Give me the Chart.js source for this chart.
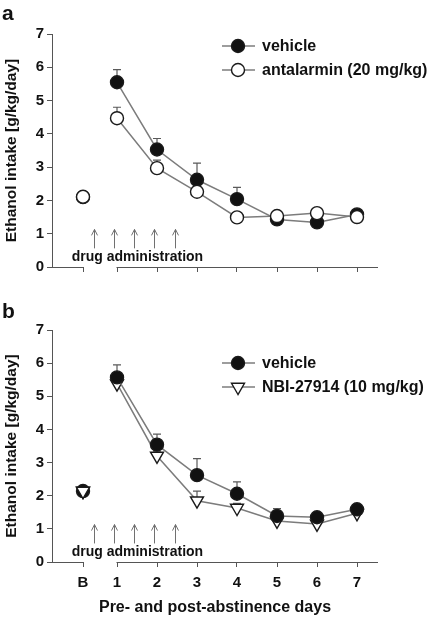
<!DOCTYPE html>
<html><head><meta charset="utf-8">
<script src="https://cdn.jsdelivr.net/npm/chart.js@4/dist/chart.umd.min.js"></script>
<style>
html,body{margin:0;padding:0;background:#fff;}
#wrap{position:relative;width:429px;height:618px;overflow:hidden;}
canvas{position:absolute;left:0;display:block;}
</style></head><body>
<div id="wrap">
<canvas id="ca" width="429" height="300" style="top:0"></canvas>
<canvas id="cb" width="429" height="318" style="top:300px"></canvas>
</div>
<script>
// ---- data ----
const categories = ['B','1','2','3','4','5','6','7'];
const vehicleA      = [2.10, 5.55, 3.53, 2.62, 2.04, 1.43, 1.34, 1.58];
const vehicleA_sem  = [0.05, 0.38, 0.33, 0.50, 0.35, 0.08, 0.06, 0.05];
const antalarminA   = [2.11, 4.47, 2.97, 2.26, 1.49, 1.53, 1.62, 1.50];
const antalarminA_sem = [0.05, 0.33, 0.24, 0.10, 0.10, 0.08, 0.08, 0.05];
const vehicleB      = [2.14, 5.57, 3.54, 2.62, 2.06, 1.39, 1.35, 1.59];
const vehicleB_sem  = [0.05, 0.38, 0.32, 0.50, 0.36, 0.22, 0.10, 0.08];
const nbiB          = [2.14, 5.38, 3.20, 1.85, 1.63, 1.24, 1.15, 1.47];
const nbiB_sem      = [0.05, 0.12, 0.12, 0.29, 0.14, 0.10, 0.08, 0.08];
const yTicks = [0,1,2,3,4,5,6,7];
const arrowDays = [0.43, 0.92, 1.43, 1.93, 2.45];
const drugLabel = 'drug administration';

const FONT = '"Liberation Sans", Arial, Helvetica, sans-serif';
const LINE = '#7c7c7c';
const AXIS = '#555';
const TXT = '#111';

function xPos(c){ return c === 'B' ? 0.15 : Number(c); }

function series(label, vals, sem, style, order, legend){
  return {
    label, order, errs: sem, legend,
    data: categories.map((c,i)=>({x:xPos(c), y:vals[i]})),
    showLine: true,
    borderColor: LINE, borderWidth: 1.5,
    segment: { borderColor: ctx => ctx.p0DataIndex === 0 ? 'rgba(0,0,0,0)' : LINE },
    pointStyle: style.shape, rotation: style.rot || 0,
    pointRadius: style.r, pointHoverRadius: style.r,
    pointBackgroundColor: style.fill, pointBorderColor: '#1a1a1a', pointBorderWidth: 1.4
  };
}

const extras = {
  id: 'extras',
  beforeDatasetsDraw(chart){
    const ctx = chart.ctx, xs = chart.scales.x, ys = chart.scales.y;
    ctx.save();
    ctx.strokeStyle = '#5a5a5a'; ctx.lineWidth = 1.2;
    chart.data.datasets.forEach(ds => {
      if (!ds.errs) return;
      ds.data.forEach((p,i) => {
        const e = ds.errs[i]; if (!e) return;
        const x = xs.getPixelForValue(p.x);
        const y0 = ys.getPixelForValue(p.y), y1 = ys.getPixelForValue(p.y + e);
        ctx.beginPath(); ctx.moveTo(x, y0); ctx.lineTo(x, y1);
        ctx.moveTo(x-4, y1); ctx.lineTo(x+4, y1); ctx.stroke();
      });
    });
    // arrows
    ctx.strokeStyle = '#707070'; ctx.lineWidth = 1;
    arrowDays.forEach(d => {
      const x = Math.round(xs.getPixelForValue(d)) + 0.5;
      const yb = ys.getPixelForValue(0.56), yt = ys.getPixelForValue(1.13);
      ctx.beginPath(); ctx.moveTo(x, yb); ctx.lineTo(x, yt);
      ctx.moveTo(x-3, yt+6); ctx.lineTo(x, yt); ctx.lineTo(x+3, yt+6); ctx.stroke();
    });
    ctx.fillStyle = TXT; ctx.font = 'bold 14px ' + FONT;
    ctx.textAlign = 'center'; ctx.textBaseline = 'alphabetic';
    ctx.fillText(drugLabel, xs.getPixelForValue(1.51), ys.getPixelForValue(0.19));
    ctx.restore();
  },
  afterDraw(chart, args, opts){
    const ctx = chart.ctx, xs = chart.scales.x, a = chart.chartArea;
    ctx.save();
    // broken x axis
    ctx.strokeStyle = AXIS; ctx.lineWidth = 1;
    const yb = Math.round(a.bottom) + 0.5;
    ctx.beginPath();
    ctx.moveTo(a.left, yb); ctx.lineTo(xs.getPixelForValue(xPos('B')) + 0.5, yb);
    ctx.moveTo(xs.getPixelForValue(xPos('1')) - 0.5, yb); ctx.lineTo(a.right, yb);
    ctx.stroke();
    // panel letter
    ctx.fillStyle = TXT; ctx.font = 'bold 21px ' + FONT;
    ctx.textAlign = 'left'; ctx.textBaseline = 'alphabetic';
    ctx.fillText(opts.letter, 2, opts.letterY);
    // legend
    let ly = opts.legendY;
    chart.data.datasets.filter(d => d.legend).forEach(ds => {
      const cx = 238;
      ctx.strokeStyle = LINE; ctx.lineWidth = 1.5;
      ctx.beginPath(); ctx.moveTo(cx-16, ly); ctx.lineTo(cx+17, ly); ctx.stroke();
      ctx.fillStyle = ds.pointBackgroundColor; ctx.strokeStyle = '#1a1a1a'; ctx.lineWidth = 1.4;
      ctx.beginPath();
      if (ds.pointStyle === 'triangle') {
        const r = ds.pointRadius;
        for (let k=0;k<3;k++){
          const ang = Math.PI/180*ds.rotation + k*2*Math.PI/3;
          const px = cx + Math.sin(ang)*r, py = ly - Math.cos(ang)*r;
          k ? ctx.lineTo(px,py) : ctx.moveTo(px,py);
        }
        ctx.closePath();
      } else {
        ctx.arc(cx, ly, ds.pointRadius, 0, Math.PI*2);
      }
      ctx.fill(); ctx.stroke();
      ctx.fillStyle = TXT; ctx.font = 'bold 16px ' + FONT;
      ctx.textAlign = 'left'; ctx.textBaseline = 'middle';
      ctx.fillText(ds.label, 262, ly + 1);
      ly += opts.legendGap;
    });
    ctx.restore();
  }
};

function makeChart(id, datasets, cfg){
  return new Chart(document.getElementById(id), {
    type: 'scatter',
    data: { datasets },
    plugins: [extras],
    options: {
      responsive: false, animation: false, devicePixelRatio: 1,
      layout: { padding: { top: cfg.top, right: 51, left: 0, bottom: 0 } },
      plugins: { legend: {display:false}, tooltip: {enabled:false},
        extras: { letter: cfg.letter, letterY: cfg.letterY, legendY: cfg.legendY, legendGap: 24 } },
      scales: {
        x: {
          type: 'linear', min: -0.625, max: 7.525,
          afterBuildTicks: s => { s.ticks = categories.map(c => ({value: xPos(c)})); },
          afterFit: s => { s.height = cfg.xh; },
          ticks: { display: cfg.xlabels, autoSkip: false, maxRotation: 0,
            callback: (v, i) => categories[i], color: TXT, padding: 7,
            font: { family: FONT, size: 15, weight: 'bold' } },
          grid: { display: true, drawOnChartArea: false, drawTicks: true, tickLength: 5, color: AXIS, lineWidth: 1 },
          border: { display: false },
          title: { display: cfg.xlabels, text: 'Pre- and post-abstinence days', color: TXT,
            font: { family: FONT, size: 16, weight: 'bold' }, padding: { top: 0, bottom: 1 } }
        },
        y: {
          min: 0, max: 7,
          afterBuildTicks: s => { s.ticks = yTicks.map(v => ({value: v})); },
          afterFit: s => { s.width = 52; },
          ticks: { color: TXT, padding: 3, font: { family: FONT, size: 15, weight: 'bold' } },
          grid: { display: true, drawOnChartArea: false, tickLength: 5, color: AXIS, lineWidth: 1 },
          border: { display: true, color: AXIS, width: 1 },
          title: { display: true, text: 'Ethanol intake [g/kg/day]', color: TXT,
            font: { family: FONT, size: 15.5, weight: 'bold' }, padding: { top: 2, bottom: 0 } }
        }
      }
    }
  });
}

makeChart('ca', [
  series('vehicle', vehicleA, vehicleA_sem, {shape:'circle', r:6.5, fill:'#111'}, 1, true),
  series('antalarmin (20 mg/kg)', antalarminA, antalarminA_sem, {shape:'circle', r:6.5, fill:'#fff'}, 0, true)
], { top: 34, xh: 33, xlabels: false, letter: 'a', letterY: 20, legendY: 46 });

const nbiBase = series('NBI-27914 (10 mg/kg)', nbiB, nbiB_sem, {shape:'triangle', rot:180, r:7.5, fill:'#fff'}, -1, false);
nbiBase.data = nbiBase.data.slice(0,1); nbiBase.errs = null; nbiBase.showLine = false;
makeChart('cb', [
  series('vehicle', vehicleB, vehicleB_sem, {shape:'circle', r:6.5, fill:'#111'}, 0, true),
  series('NBI-27914 (10 mg/kg)', nbiB, nbiB_sem, {shape:'triangle', rot:180, r:7.5, fill:'#fff'}, 1, true),
  nbiBase
], { top: 30, xh: 56, xlabels: true, letter: 'b', letterY: 18, legendY: 63 });
</script>
</body></html>
